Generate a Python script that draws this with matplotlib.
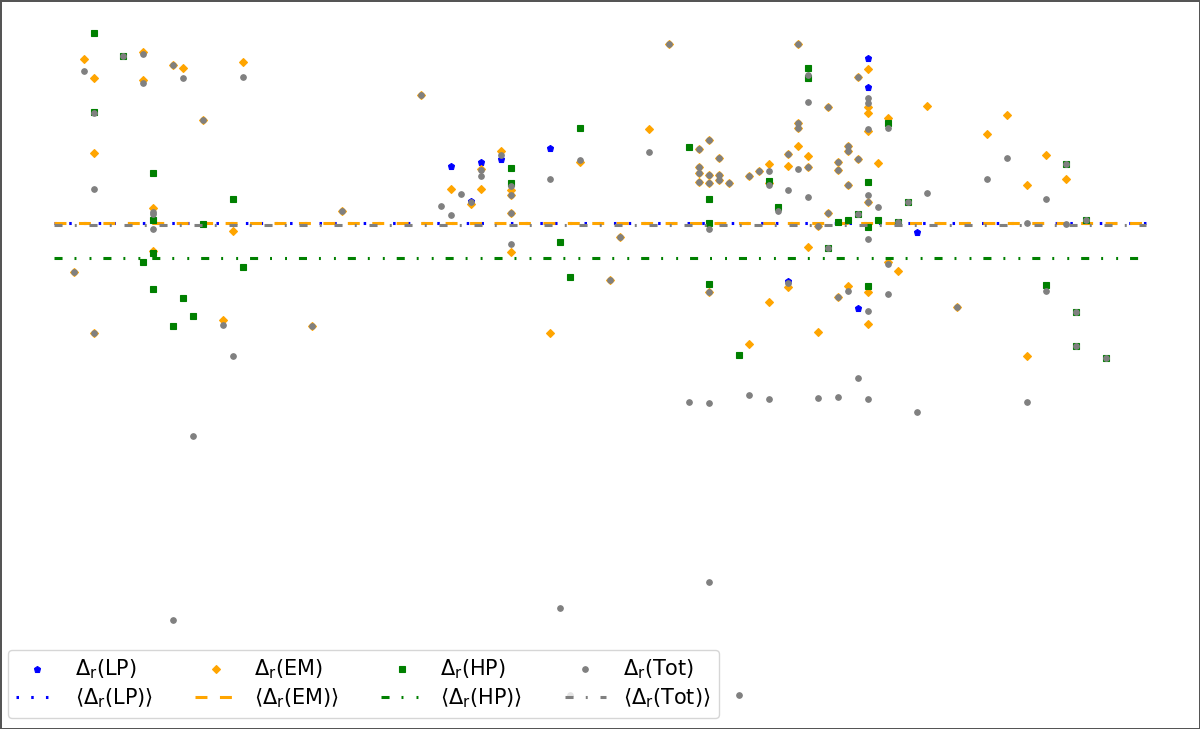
import matplotlib
matplotlib.use('Agg')
import numpy as np
import matplotlib.pyplot as plt

plt.rcParams['lines.scale_dashes'] = False

# sample index (shared x grid) and relative deviations per component
n_samples = 111

lp_x = [40, 42, 43, 45, 50, 74, 81, 82, 82, 87]
lp_y = [0.58, 0.23, 0.62, 0.65, 0.76, -0.57, -0.84, 1.66, 1.37, -0.08]

em_x = [2, 3, 4, 4, 4, 9, 9, 10, 10, 12, 13, 15, 17, 18, 19, 26, 29, 37, 40, 42,
        43, 43, 45, 46, 46, 46, 46, 50, 53, 56, 57, 60, 62, 65, 65, 65, 65,
        66, 66, 66, 66, 67, 67, 67, 68, 70, 70, 71, 72, 72, 72, 74, 74, 74,
        75, 75, 75, 75, 76, 76, 76, 77, 77, 78, 78, 79, 79, 79, 80, 80, 80, 80,
        81, 81, 82, 82, 82, 82, 82, 82, 82, 83, 84, 84, 85, 88, 91, 94, 96,
        98, 98, 100, 102]
em_y = [-0.48, 1.65, 1.46, 0.71, -1.09, 1.72, 1.44, 0.16, -0.27, 1.59, 1.56, 1.04,
        -0.96, -0.07, 1.62, -1.02, 0.13, 1.29, 0.35, 0.20,
        0.55, 0.35, 0.73, 0.34, 0.29, 0.11, -0.28, -1.09, 0.62, -0.56, -0.13, 0.95,
        1.80, 0.75, 0.57, 0.51, 0.42,
        0.84, 0.49, 0.41, -0.68, 0.66, 0.49, 0.44, 0.41, 0.48, -1.20, 0.53,
        0.60, 0.41, -0.78, 0.70, 0.58, -0.63,
        1.80, 1.01, 0.96, 0.78, 0.68, 0.57, -0.23, -0.02, -1.08, 1.17, 0.11,
        0.62, 0.54, -0.73, 0.78, 0.73, 0.39, -0.62,
        1.47, 0.65, 1.55, 1.17, 1.11, 0.93, 0.22, -0.68, -1.00, 0.61, 1.06, -0.38,
        -0.47, 1.18, -0.83, 0.90, 1.09,
        0.39, -1.32, 0.69, 0.45]

hp_x = [4, 4, 7, 9, 10, 10, 10, 10, 12, 13, 14, 15, 18, 19, 46, 46, 51, 52, 53,
        64, 66, 66, 66, 69, 72, 73, 76, 76, 78, 79, 80, 81, 82, 82, 82, 83, 84,
        85, 86, 100, 102, 103, 103, 104, 106]
hp_y = [1.91, 1.12, 1.68, -0.38, 0.51, 0.04, -0.29, -0.65, -1.02, -0.74, -0.92,
        0.00, 0.25, -0.43, 0.56, 0.41, -0.18, -0.53, 0.96,
        0.77, 0.25, 0.01, -0.60, -1.31, 0.43, 0.17, 1.56, 1.46, -0.24, 0.02, 0.04,
        0.10, 0.42, -0.03, -0.62, 0.04, 1.01,
        0.02, 0.22, -0.61, 0.60, -0.88, -1.22, 0.04, -1.34]

tot_x = [2, 3, 4, 4, 4, 7, 9, 9, 10, 10, 10, 12, 12, 13, 14, 15, 17, 18, 19, 26,
         29, 37, 39, 40, 41, 42, 43, 43, 45, 46, 46, 46, 46, 50, 51, 52, 53, 56,
         57, 60, 62, 64, 65, 65, 65, 65, 66, 66, 66, 66, 66, 66, 66, 67, 67, 67,
         68, 69, 70, 70, 71, 72, 72, 72, 73, 74, 74, 74, 75, 75, 75, 75,
         76, 76, 76, 76, 77, 77, 78, 78, 78, 79, 79, 79, 79, 80, 80, 80, 80,
         81, 81, 81, 81, 82, 82, 82, 82, 82, 82, 82, 82, 83, 84, 84, 84, 85, 86,
         87, 88, 91, 94, 96, 98, 98, 100, 100, 102, 102, 103, 103, 104, 106]
tot_y = [-0.48, 1.53, 1.11, 0.35, -1.09, 1.68, 1.70, 1.41, 0.12, 0.10, -0.05,
         1.59, -3.96, 1.46, -2.12, 1.04, -1.01, -1.32, 1.47, -1.02,
         0.13, 1.29, 0.18, 0.09, 0.30, 0.22, 0.54, 0.48, 0.69, 0.38, 0.29, 0.11,
         -0.20, 0.45, -3.84, -4.71, 0.64, -0.56,
         -0.13, 0.72, 1.80, -1.78, 0.75, 0.57, 0.51, 0.42, 0.84, 0.49, 0.41, -0.05,
         -0.68, -1.79, -3.58, 0.66, 0.49, 0.44,
         0.41, -4.71, 0.48, -1.71, 0.53, 0.53, 0.39, -1.75, 0.13, 0.70, 0.34, -0.59,
         1.80, 1.01, 0.96, 0.55,
         1.49, 1.22, 0.57, 0.27, -0.02, -1.74, 1.17, 0.11, -0.24, 0.62, 0.54,
         -0.73, -1.73, 0.78, 0.73, 0.39, -0.67,
         1.47, 0.65, 0.10, -1.54, 1.26, 1.21, 0.95, 0.29, 0.22, -0.15, -0.87, -1.75,
         0.17, 0.96, -0.40, -0.70, 0.02, 0.22,
         -1.88, 0.31, -0.83, 0.45, 0.66, 0.01, -1.78, 0.25, -0.67, 0.60, 0.00,
         -0.88, -1.22, 0.04, -1.34]

# mean values drawn as horizontal lines over the full sample range
lp_mean = 0.01
em_mean = 0.015
hp_mean = -0.335
tot_mean = -0.005

idx = np.arange(n_samples)

fig = plt.figure(figsize=(12, 7.29), dpi=100, edgecolor='#555555', linewidth=2)
ax = fig.add_axes([0, 0, 1, 1])
ax.axis('off')

lw = 2.2
ax.plot(lp_x, lp_y, 'p', color='blue', ms=4.5, mew=0.8, label=r'$\Delta_\mathrm{r}$(LP)')
ax.plot(idx, np.full(n_samples, lp_mean), color='blue', lw=lw, dashes=(1.8, 8.8),
        label=r'$\langle\Delta_\mathrm{r}$(LP)$\rangle$')
ax.plot(em_x, em_y, 'D', color='orange', ms=4, mew=0.8, label=r'$\Delta_\mathrm{r}$(EM)')
ax.plot(idx, np.full(n_samples, em_mean), color='orange', lw=lw, dashes=(8.6, 9.0),
        label=r'$\langle\Delta_\mathrm{r}$(EM)$\rangle$')
ax.plot(hp_x, hp_y, 's', color='green', ms=4, mew=0.8, label=r'$\Delta_\mathrm{r}$(HP)')
ax.plot(idx, np.full(n_samples, hp_mean), color='green', lw=lw,
        dashes=(5.8, 8.6, 1.4, 9.4, 1.4, 8.6),
        label=r'$\langle\Delta_\mathrm{r}$(HP)$\rangle$')
ax.plot(tot_x, tot_y, 'o', color='gray', ms=4, mew=0.8, label=r'$\Delta_\mathrm{r}$(Tot)')
ax.plot(idx, np.full(n_samples, tot_mean), color='gray', lw=lw,
        dashes=(5.8, 8.8, 1.4, 9.2),
        label=r'$\langle\Delta_\mathrm{r}$(Tot)$\rangle$')

ax.set_xlim(-5.44, 115.47)
ax.set_ylim(-5.05, 2.24)

ax.legend(loc='lower left', bbox_to_anchor=(8 / 1200, 11 / 729), borderaxespad=0,
          ncol=4, fontsize=15, labelspacing=0.22, columnspacing=2.05)

fig.savefig('out.png', dpi=100, edgecolor=fig.get_edgecolor())
